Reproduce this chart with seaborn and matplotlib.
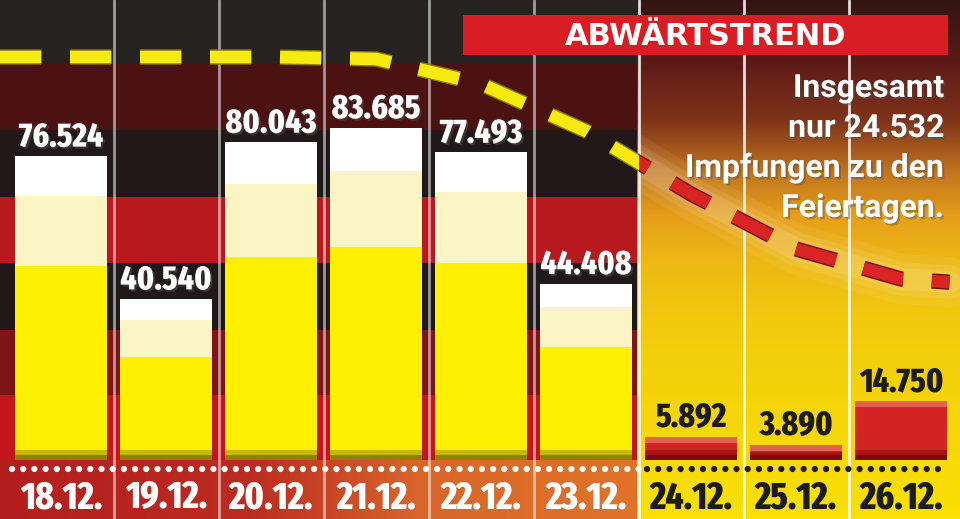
import numpy as np
import matplotlib
matplotlib.use("Agg")
import matplotlib.pyplot as plt
import matplotlib.font_manager as fm
import matplotlib.patheffects as pe
from matplotlib.patches import Rectangle
from matplotlib.textpath import TextPath
import seaborn as sns

# ── Daten ───────────────────────────────────────────────
dates = ["18.12.", "19.12.", "20.12.", "21.12.", "22.12.", "23.12.", "24.12.", "25.12.", "26.12."]
impfungen = [76524, 40540, 80043, 83685, 77493, 44408, 5892, 3890, 14750]
trend = [101556, 101556, 101556, 101052, 94752, 82908, 67032, 53172, 45612]
feiertag = [False, False, False, False, False, False, True, True, True]
title = "ABWÄRTSTREND"
note = ["Insgesamt", "nur 24.532", "Impfungen zu den", "Feiertagen."]


# ── Fonts ───────────────────────────────────────────────
def pick_font(names, fallback="DejaVu Sans"):
    for name in names:
        try:
            fm.findfont(fm.FontProperties(family=name, weight="bold"), fallback_to_default=False)
            return name
        except ValueError:
            continue
    return fallback


def narrow_font():
    # schmalste, möglichst kräftige Schrift, die installiert ist
    best = None
    for f in fm.fontManager.ttflist:
        name = f.fname.lower().replace("-", "").replace("_", "")
        if f.style != "normal" or not any(k in name for k in ("condensed", "narrow")):
            continue
        w = f.weight if isinstance(f.weight, int) else {"bold": 700, "normal": 400}.get(f.weight, 400)
        if w < 600:
            continue
        rank = (0 if "extracondensed" in name else 2 if "semicondensed" in name else 1, abs(w - 820))
        if best is None or rank < best[0]:
            best = (rank, f.fname)
    if best:
        return fm.FontProperties(fname=best[1])
    return fm.FontProperties(family="DejaVu Sans", weight="bold")


def fit_size(prop, sample, w_px, h_px):
    w = TextPath((0, 0), sample, size=100, prop=prop).get_extents().width
    h = TextPath((0, 0), "0", size=100, prop=prop).get_extents().height
    return min(100 * w_px * 0.72 / w, 100 * h_px * 0.72 / h)


sns.set_style("white")
ROUND = pick_font(["Roboto", "Open Sans"])
NARROW = narrow_font()
plt.rcParams["font.family"] = ["DejaVu Sans"]

W_PX, H_PX = 960, 519
fig = plt.figure(figsize=(9.6, 5.19), dpi=100)
fig.patch.set_facecolor("black")

# ── Hintergrund (Flaggen-Streifen / gelber Feiertagsbereich) ──
bg = np.zeros((H_PX, W_PX, 3))
stripes = [
    (0, 63, (0.16, 0.14, 0.14)),
    (63, 130, (0.30, 0.07, 0.07)),
    (130, 197, (0.13, 0.10, 0.10)),
    (197, 263, (0.72, 0.10, 0.12)),
    (263, 330, (0.13, 0.10, 0.10)),
    (330, 395, (0.50, 0.08, 0.09)),
    (395, 460, (0.76, 0.09, 0.11)),
]
split = 637
for top, bot, col in stripes:
    bg[top:bot, :split] = col
xs = np.arange(split)
for c, knots in enumerate([(0.70, 0.74, 0.85, 0.88), (0.12, 0.17, 0.40, 0.45), (0.12, 0.13, 0.17, 0.16)]):
    bg[460:, :split, c] = np.interp(xs, [0, 250, 420, split], knots)[None, :]
rows = np.arange(H_PX)
rk = [0, 60, 120, 170, 215, 260, 330, 519]
rc = [(0.20, 0.08, 0.07), (0.36, 0.10, 0.09), (0.50, 0.20, 0.10), (0.75, 0.45, 0.12),
      (0.90, 0.62, 0.10), (0.93, 0.72, 0.08), (0.95, 0.80, 0.05), (0.98, 0.88, 0.02)]
for c in range(3):
    bg[:, split:, c] = np.interp(rows, rk, [k[c] for k in rc])[:, None]

ax_bg = fig.add_axes([0, 0, 1, 1])
ax_bg.imshow(bg, extent=[0, W_PX, H_PX, 0], aspect="auto", interpolation="bilinear")
ax_bg.set_axis_off()

# ── Balken ──────────────────────────────────────────────
ax = fig.add_axes([0, 44 / H_PX, 1, 475 / H_PX])
ax.patch.set_alpha(0)
UNIT = 252  # Impfungen pro Pixel
BAR_W = 0.876


def layer(heights, colors, z):
    sns.barplot(x=dates, y=heights, hue=dates, order=dates, hue_order=dates,
                palette=colors, legend=False, width=BAR_W, saturation=1,
                errorbar=None, linewidth=0, ax=ax, zorder=z)


top_cols = ["#ffffff" if not f else "#e2604f" for f in feiertag]
mid_cols = ["#fbf5c6" if not f else "#d32424" for f in feiertag]
low_cols = ["#fff000" if not f else "#d32424" for f in feiertag]
shade1 = ["#c8b800" if not f else "#a81414" for f in feiertag]
shade2 = ["#8f8200" if not f else "#7c0808" for f in feiertag]

layer(impfungen, top_cols, 3)
layer([v * 0.87 if not f else v - 6 * UNIT for v, f in zip(impfungen, feiertag)], mid_cols, 4)
layer([v * 0.64 if not f else v - 6 * UNIT for v, f in zip(impfungen, feiertag)], low_cols, 5)
layer([min(10 * UNIT, v * 0.5) for v in impfungen], shade1, 6)
layer([min(5 * UNIT, v * 0.3) for v in impfungen], shade2, 7)

ax.set_xlim(-61 / 105, (W_PX - 61) / 105)
ax.set_ylim(-15 * UNIT, 460 * UNIT)
ax.set_yticks([])
for s in ax.spines.values():
    s.set_visible(False)

# Werte
val_size = fit_size(NARROW, "76.524", 84, 28)
for i, (v, f) in enumerate(zip(impfungen, feiertag)):
    effects = [] if f else [pe.withSimplePatchShadow(offset=(1.5, -1.5), alpha=0.5)]
    ax.annotate(f"{v:,}".replace(",", "."), (i, v), xytext=(0, 7), textcoords="offset points",
                ha="center", va="baseline", fontproperties=NARROW, fontsize=val_size,
                color="#1c1c1c" if f else "white", zorder=10, path_effects=effects)

# Trennlinien und Punktlinie
for i in range(len(dates) - 1):
    ax.axvline(i + 0.5, ymin=-44 / 475, ymax=1, color="white", alpha=0.55 if i < 5 else 0.85,
               lw=2, clip_on=False, zorder=2)
n_work = feiertag.index(True)
ax.plot([-0.47, n_work - 0.5], [-9 * UNIT] * 2, color="white", lw=4.5,
        linestyle=(0, (0.01, 1.78)), dash_capstyle="round", zorder=8, clip_on=False)
ax.plot([n_work - 0.42, len(dates) - 0.55], [-9 * UNIT] * 2, color="#1a1a1a", lw=4.5,
        linestyle=(0, (0.01, 1.78)), dash_capstyle="round", zorder=8, clip_on=False)

# Trendlinie (an den Rändern fortgeführt)
xpos = np.arange(len(dates))
x0, x1 = ax.get_xlim()
tx = np.r_[x0, xpos, x1 - 0.1]
ty = np.r_[trend[0], trend, trend[-1] - 800]
glow_clip = Rectangle((n_work - 0.5, -1e6), 10, 2e6, transform=ax.transData)
for lw, a in [(36, 0.07), (24, 0.10), (16, 0.13)]:
    g, = ax.plot(tx, ty, color="#fff4d8", lw=lw, alpha=a, solid_capstyle="round", zorder=8)
    g.set_clip_path(glow_clip)

for col, edge, clip in [("#f6ea10", "#8c7c00", Rectangle((-5, -1e6), n_work - 0.5 + 5, 2e6, transform=ax.transData)),
                        ("#d82424", "#7a0a0a", glow_clip)]:
    sns.lineplot(x=tx, y=ty, color=col, linewidth=9, ax=ax, zorder=9)
    ln = ax.lines[-1]
    ln.set_dashes((3.3, 2.3))
    ln.set_dash_capstyle("butt")
    ln.set_path_effects([pe.Stroke(linewidth=11, foreground=edge), pe.Normal()])
    ln.set_clip_path(clip)

# Achsenbeschriftung
date_size = fit_size(NARROW, "18.12.", 86, 27)
ax.set_xticks(xpos)
ax.set_xticklabels(dates)
ax.tick_params(axis="x", length=0, pad=24)
for lbl, f in zip(ax.get_xticklabels(), feiertag):
    lbl.set_fontproperties(NARROW)
    lbl.set_fontsize(date_size)
    lbl.set_verticalalignment("baseline")
    lbl.set_color("#1c1c1c" if f else "white")
ax.set_xlabel("")
ax.set_ylabel("")

# Titelbalken und Notiz
fig.patches.append(Rectangle((463 / W_PX, 1 - 55 / H_PX), 485 / W_PX, 40 / H_PX,
                             transform=fig.transFigure, facecolor="#d81d25", edgecolor="none", zorder=20))
fig.text(706 / W_PX, 1 - 45 / H_PX, title, ha="center", va="baseline", color="white",
         fontsize=22, fontweight="bold", family=["DejaVu Sans"], zorder=21)
for k, line in enumerate(note):
    fig.text(945 / W_PX, 1 - (97 + 40 * k) / H_PX, line, ha="right", va="baseline", color="white",
             fontsize=23, fontweight="bold", family=[ROUND, "DejaVu Sans"], zorder=21,
             path_effects=[pe.withSimplePatchShadow(offset=(1.5, -1.5), alpha=0.4)])

fig.savefig("out.png", dpi=100, facecolor=fig.get_facecolor())
